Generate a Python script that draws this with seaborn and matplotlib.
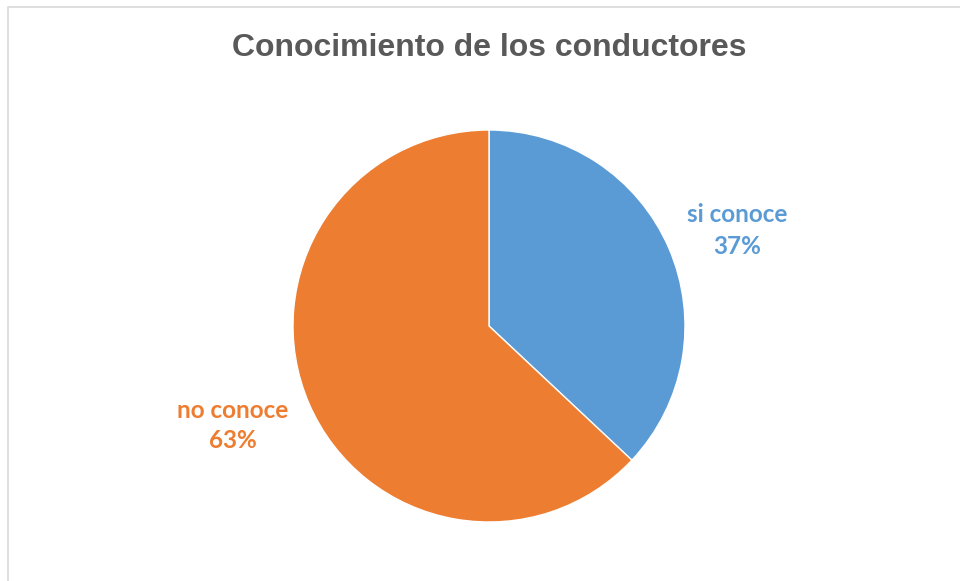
import matplotlib
matplotlib.use("Agg")
import matplotlib.pyplot as plt
import seaborn as sns
from matplotlib.patches import Rectangle

sns.set_theme(style="white")

categories = ["si conoce", "no conoce"]
values = [37, 63]
colors = ["#5B9BD5", "#ED7D31"]
title = "Conocimiento de los conductores"

fig = plt.figure(figsize=(9.6, 5.81), dpi=100)
fig.patch.set_facecolor("white")
# outer chart frame (right and bottom edges fall outside the image)
fig.patches.append(Rectangle((8/960, -0.1), 2.0, (581-7)/581 + 0.1, transform=fig.transFigure,
                             fill=False, edgecolor="#D9D9D9", linewidth=1.2))

cx, cy, r = 489, 581 - 326, 196
ax = fig.add_axes([(cx - r)/960, (cy - r)/581, 2*r/960, 2*r/581])
wedges, _ = ax.pie(values, colors=colors, startangle=90, counterclock=False,
                   radius=1, wedgeprops=dict(edgecolor="white", linewidth=1.0))
ax.set_xlim(-1, 1)
ax.set_ylim(-1, 1)
ax.set_aspect("auto")
ax.axis("off")

# label centres in pixels: (x, y of name line, y of percent line)
label_px = [(737, 215, 246), (233, 410, 441)]
for cat, v, col, (x, y1, y2) in zip(categories, values, colors, label_px):
    for txt, y in ((cat, y1), (f"{v}%", y2)):
        fig.text(x/960, 1 - y/581, txt, ha="center", va="center", color=col,
                 fontsize=17.5, fontweight="bold", family=["Lato", "DejaVu Sans"])

fig.text(489/960, 1 - 48/581, title, ha="center", va="center",
         fontsize=23, fontweight="bold", color="#595959",
         family=["Liberation Sans", "DejaVu Sans"])

fig.savefig("out.png", dpi=100, facecolor="white")
